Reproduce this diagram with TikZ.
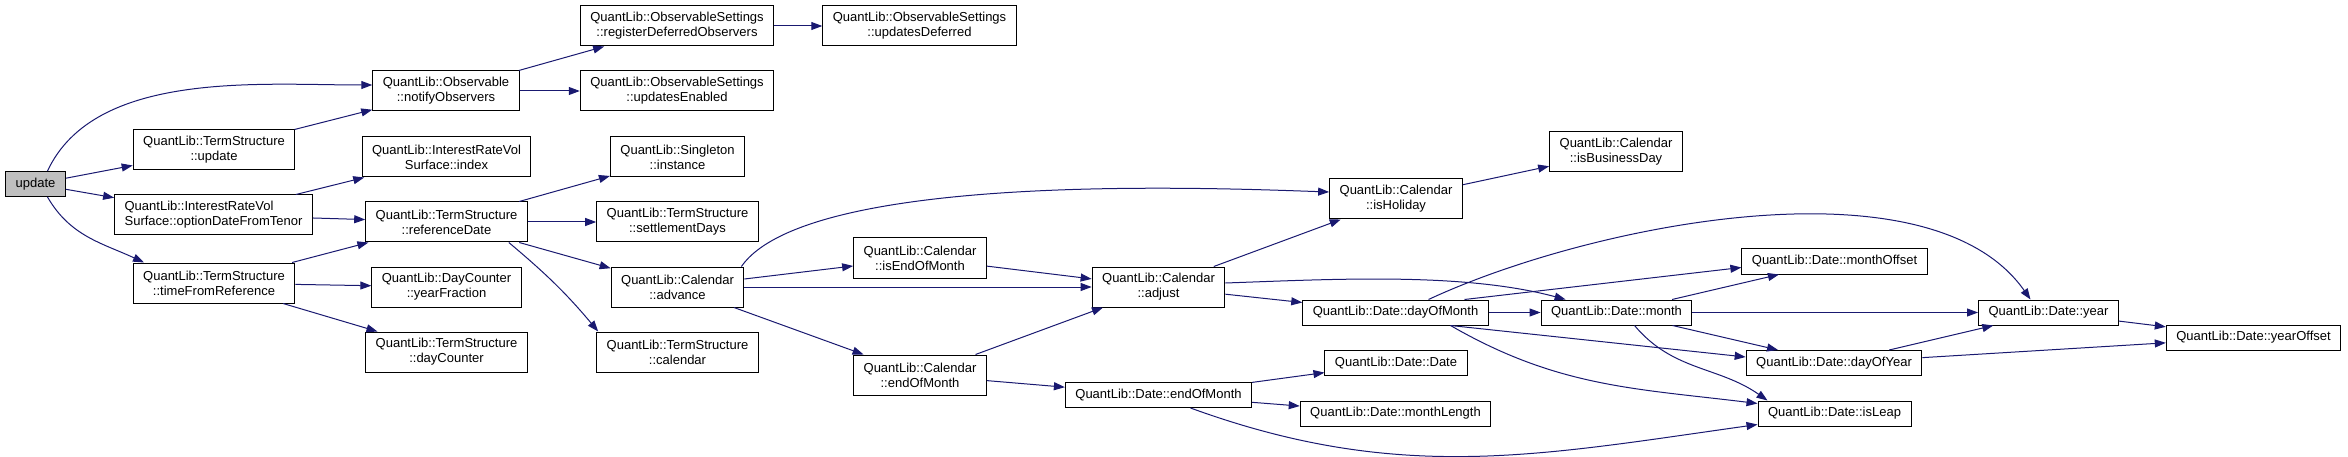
\documentclass[tikz,border=0pt]{standalone}
\usepackage{fontspec}
\setmainfont{Liberation Sans}
\usetikzlibrary{arrows.meta}
\definecolor{callblue}{RGB}{25,25,112}
\definecolor{rootgray}{RGB}{191,191,191}
\tikzset{
  fn/.style={
    draw,
    line width=1pt,
    fill=white,
    align=center,
    inner xsep=10pt,
    inner ysep=2pt,
    minimum height=25pt,
    font=\fontsize{13pt}{15pt}\selectfont
  },
  fntwo/.style={
    fn,
    minimum height=40pt
  },
  root/.style={
    fn,
    fill=rootgray
  },
  call/.style={
    -{Triangle[length=11pt,width=8pt]},
    color=callblue,
    line width=1pt
  }
}

\begin{document}
\begin{tikzpicture}[x=1pt,y=1pt]
  \useasboundingbox (0,0) rectangle (2348,-457);

  \node[root] (update) at (35.5,-184) {update};
  \node[fntwo] (tsUpdate) at (214,-150) {QuantLib::TermStructure\\::update};
  \node[fntwo, align=left] (optionDate) at (213.5,-215) {QuantLib::InterestRateVol\\Surface::optionDateFromTenor};
  \node[fntwo] (timeFromRef) at (214,-283) {QuantLib::TermStructure\\::timeFromReference};
  \node[fntwo] (notify) at (446,-91) {QuantLib::Observable\\::notifyObservers};
  \node[fntwo] (volIndex) at (446.5,-157) {QuantLib::InterestRateVol\\Surface::index};
  \node[fntwo] (refDate) at (446.5,-222) {QuantLib::TermStructure\\::referenceDate};
  \node[fntwo] (yearFrac) at (446.5,-287) {QuantLib::DayCounter\\::yearFraction};
  \node[fntwo] (dayCounter) at (446.5,-352) {QuantLib::TermStructure\\::dayCounter};
  \node[fntwo] (regDeferred) at (677,-26) {QuantLib::ObservableSettings\\::registerDeferredObservers};
  \node[fntwo] (updEnabled) at (677,-91) {QuantLib::ObservableSettings\\::updatesEnabled};
  \node[fntwo] (instance) at (677.5,-157) {QuantLib::Singleton\\::instance};
  \node[fntwo] (settleDays) at (677.5,-222) {QuantLib::TermStructure\\::settlementDays};
  \node[fntwo] (advance) at (677.5,-287) {QuantLib::Calendar\\::advance};
  \node[fntwo] (calendar) at (677.5,-352) {QuantLib::TermStructure\\::calendar};
  \node[fntwo] (updDeferred) at (919.5,-26) {QuantLib::ObservableSettings\\::updatesDeferred};
  \node[fntwo] (isEOM) at (920,-258) {QuantLib::Calendar\\::isEndOfMonth};
  \node[fntwo] (calEOM) at (920,-375) {QuantLib::Calendar\\::endOfMonth};
  \node[fntwo] (adjust) at (1158.5,-287) {QuantLib::Calendar\\::adjust};
  \node[fn] (dateEOM) at (1158.5,-395) {QuantLib::Date::endOfMonth};
  \node[fntwo] (isHoliday) at (1396,-199) {QuantLib::Calendar\\::isHoliday};
  \node[fntwo] (isBizDay) at (1616,-152) {QuantLib::Calendar\\::isBusinessDay};
  \node[fn] (dayOfMonth) at (1395.5,-312.5) {QuantLib::Date::dayOfMonth};
  \node[fn] (dateDate) at (1396,-363) {QuantLib::Date::Date};
  \node[fn] (monthLength) at (1395.5,-413.5) {QuantLib::Date::monthLength};
  \node[fn] (month) at (1616.5,-312.5) {QuantLib::Date::month};
  \node[fn] (monthOffset) at (1834.5,-261.5) {QuantLib::Date::monthOffset};
  \node[fn] (dayOfYear) at (1834,-363) {QuantLib::Date::dayOfYear};
  \node[fn] (isLeap) at (1834.5,-413.5) {QuantLib::Date::isLeap};
  \node[fn] (year) at (2048.5,-312.5) {QuantLib::Date::year};
  \node[fn] (yearOffset) at (2253.5,-337.5) {QuantLib::Date::yearOffset};

  % calls out of update
  \draw[call] ([xshift=12pt]update.north) to[out=65,in=180,looseness=0.85] ([yshift=6pt]notify.west);
  \draw[call] (update) -- (tsUpdate);
  \draw[call] (update) -- (optionDate);
  \draw[call] ([xshift=12pt]update.south) to[out=-60,in=155] ([xshift=-70pt]timeFromRef.north);
  \draw[call] (tsUpdate) -- (notify);
  \draw[call] (optionDate) -- (volIndex);
  \draw[call] (optionDate) -- (refDate);
  \draw[call] (timeFromRef) -- (refDate);
  \draw[call] (timeFromRef) -- (yearFrac);
  \draw[call] (timeFromRef) -- (dayCounter);
  \draw[call] (notify) -- (regDeferred);
  \draw[call] (notify) -- (updEnabled);
  \draw[call] (regDeferred) -- (updDeferred);
  \draw[call] (refDate) -- (instance);
  \draw[call] (refDate) -- (settleDays);
  \draw[call] (refDate) -- (advance);
  \draw[call] ([xshift=-19pt]refDate.south east) to[out=-40,in=130] ([xshift=2pt]calendar.north west);

  % calendar
  \draw[call] ([xshift=-3pt]advance.north east) to[out=55,in=178,looseness=0.5] ([yshift=7pt]isHoliday.west);
  \draw[call] (advance) -- (isEOM);
  \draw[call] (advance) -- (adjust);
  \draw[call] (advance) -- (calEOM);
  \draw[call] (isEOM) -- (adjust);
  \draw[call] (calEOM) -- (adjust);
  \draw[call] (calEOM) -- (dateEOM);
  \draw[call] (adjust) -- (isHoliday);
  \draw[call] (isHoliday) -- (isBizDay);
  \draw[call] ([yshift=4pt]adjust.east) to[out=2,in=165,looseness=0.8] ([xshift=25pt]month.north west);
  \draw[call] (adjust) -- (dayOfMonth);

  % date
  \draw[call] (dayOfMonth) -- (month);
  \draw[call] ([xshift=33pt]dayOfMonth.north) to[out=25,in=125,looseness=0.75] ([xshift=-18pt]year.north);
  \draw[call] ([xshift=69pt]dayOfMonth.north) -- ([yshift=-6pt]monthOffset.west);
  \draw[call] ([xshift=55pt]dayOfMonth.south) -- ([yshift=6pt]dayOfYear.west);
  \draw[call] ([xshift=55pt]dayOfMonth.south) to[out=-30,in=173] ([yshift=10pt]isLeap.west);
  \draw[call] (dateEOM) -- (dateDate);
  \draw[call] (dateEOM) -- (monthLength);
  \draw[call] ([xshift=32pt]dateEOM.south) to[out=-20,in=188] ([yshift=2pt]isLeap.south west);
  \draw[call] (month) -- (monthOffset);
  \draw[call] (month) -- (year);
  \draw[call] (month) -- (dayOfYear);
  \draw[call] ([xshift=18pt]month.south) to[out=-50,in=145] ([xshift=10pt]isLeap.north west);
  \draw[call] (year) -- (yearOffset);
  \draw[call] (dayOfYear) -- (year);
  \draw[call] (dayOfYear) -- (yearOffset);
\end{tikzpicture}
\end{document}
